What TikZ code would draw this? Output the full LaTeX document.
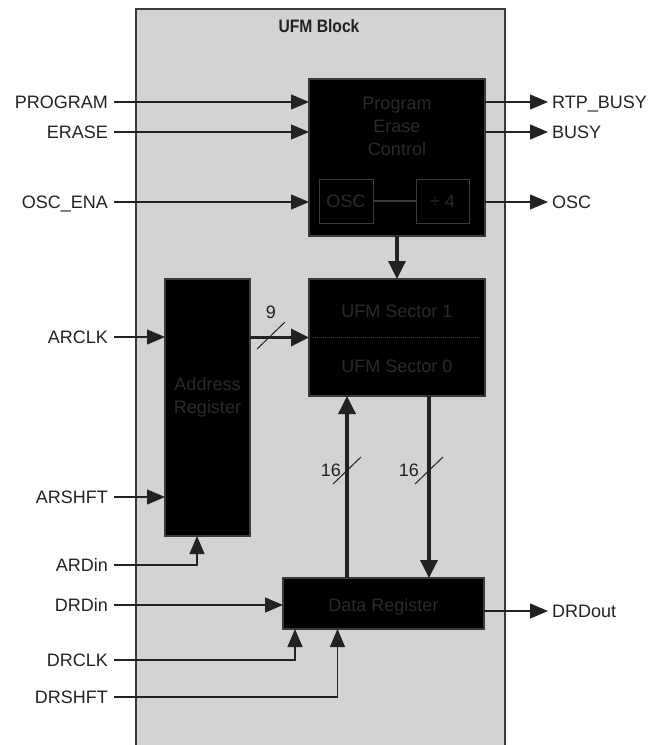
\documentclass[tikz,border=0pt]{standalone}
\usepackage{fontspec}
\setmainfont{Liberation Sans}
\newfontfamily\narrowsans[FakeStretch=0.87]{Liberation Sans}
\usetikzlibrary{arrows.meta}
\definecolor{blockgray}{HTML}{D3D3D3}
\definecolor{edgegray}{HTML}{3A3A3A}
\definecolor{wirecol}{HTML}{222222}
\definecolor{dimtext}{HTML}{2A2A2A}
\tikzset{
  sig/.style={font=\fontsize{18}{21}\selectfont, text=wirecol, text height=13pt, text depth=0pt, inner ysep=0pt},
  sigin/.style={sig, anchor=east, inner xsep=6pt},
  sigout/.style={sig, anchor=west, inner xsep=4pt},
  bitw/.style={sig, inner sep=0pt},
  blackbox/.style={draw=edgegray, fill=black, line width=1.5pt, inner sep=0pt, outer sep=0pt},
  subbox/.style={blackbox, line width=1pt, font=\fontsize{18}{21}\selectfont, text=dimtext},
  boxtext/.style={font=\fontsize{18}{23}\selectfont, text=dimtext, align=center, inner sep=0pt},
  boxline/.style={boxtext, text height=13pt, text depth=0pt},
  wire/.style={draw=wirecol, line width=1.2pt, -{Triangle[length=18pt,width=15pt]}},
  bus/.style={draw=wirecol, line width=3.5pt, -{Triangle[length=18pt,width=17pt]}},
}
\begin{document}
\begin{tikzpicture}[x=1pt,y=-1pt]
    \useasboundingbox (0,0) rectangle (651,745);
    % UFM block
    \fill[blockgray] (136,9) rectangle (505,746);
    \draw[edgegray, line width=1.5pt] (136,746) -- (136,9) -- (505,9) -- (505,746);
    \node[font=\narrowsans\bfseries\fontsize{18}{21}\selectfont, text=wirecol] (title) at (319,26) {UFM Block};
    % boxes
    \node[blackbox, minimum width=176pt, minimum height=157pt] (pec) at (397,157.5) {};
    \node[boxtext] (pectxt) at (397,126) {Program\\Erase\\Control};
    \node[subbox, minimum width=54pt, minimum height=44pt] (osc) at (346,201) {OSC};
    \node[subbox, minimum width=53pt, minimum height=44pt] (div) at (442.5,201) {÷ 4};
    \draw[edgegray, line width=1.5pt] (osc.east) -- (div.west);
    \node[blackbox, minimum width=176pt, minimum height=117pt] (ufm) at (397,337.5) {};
    \draw[edgegray, densely dotted, line width=1pt] ([xshift=4pt]ufm.west) -- ([xshift=-5pt]ufm.east);
    \node[boxline] (sec1) at (397,311) {UFM Sector 1};
    \node[boxline] (sec0) at (397,366) {UFM Sector 0};
    \node[blackbox, minimum width=85pt, minimum height=257pt] (addr) at (207.5,407.5) {};
    \node[boxtext] (addrtxt) at (207.5,397) {Address\\Register};
    \node[blackbox, minimum width=201pt, minimum height=51pt] (dreg) at (383.5,603.5) {};
    \node[boxline, text depth=0pt] (dregtxt) at (383.5,605) {Data Register};
    % program / erase signals
    \foreach \i/\txt/\y in {1/PROGRAM/102, 2/ERASE/132, 3/OSC\_ENA/202} {
        \node[sigin] (pin\i) at (114,\y) {\txt};
        \draw[wire] (pin\i) -- (pin\i -| pec.west);
    }
    \foreach \i/\txt/\y in {1/RTP\_BUSY/102, 2/BUSY/132, 3/OSC/202} {
        \node[sigout] (pout\i) at (548,\y) {\txt};
        \draw[wire] (pout\i -| pec.east) -- (pout\i);
    }
    % address register signals
    \node[sigin] (arclk) at (114,337) {ARCLK};
    \node[sigin] (arshft) at (114,497) {ARSHFT};
    \node[sigin] (ardin) at (114,565) {ARDin};
    \draw[wire] (arclk) -- (arclk -| addr.west);
    \draw[wire] (arshft) -- (arshft -| addr.west);
    \draw[wire] (ardin) -| ([xshift=-10.5pt]addr.south);
    % data register signals
    \node[sigin] (drdin) at (114,605) {DRDin};
    \node[sigin] (drclk) at (114,660) {DRCLK};
    \node[sigin] (drshft) at (114,697) {DRSHFT};
    \draw[wire] (drdin) -- (drdin -| dreg.west);
    \draw[wire] (drclk) -| ([xshift=12pt]dreg.south west);
    \draw[wire] (drshft) -| ([xshift=54.5pt]dreg.south west);
    \node[sigout] (drdout) at (548,611) {DRDout};
    \draw[wire] (drdout -| dreg.east) -- (drdout);
    % buses
    \draw[bus] (pec) -- (ufm);
    \draw[bus] (addr.east |- ufm) -- (ufm.west);
    \draw[bus] ([xshift=64pt]dreg.north west) -- ([xshift=64pt]dreg.north west |- ufm.south);
    \draw[bus] ([xshift=146pt]dreg.north west |- ufm.south) -- ([xshift=146pt]dreg.north west);
    % bus widths
    \draw[wirecol, line width=1pt] (257,349) -- (285,322);
    \node[bitw] (w9) at (271,312) {9};
    \draw[wirecol, line width=1pt] (333,484) -- (361,457);
    \node[bitw, anchor=east] (w16a) at (341,470) {16};
    \draw[wirecol, line width=1pt] (415,484) -- (443,457);
    \node[bitw, anchor=east] (w16b) at (419,470) {16};
\end{tikzpicture}
\end{document}
